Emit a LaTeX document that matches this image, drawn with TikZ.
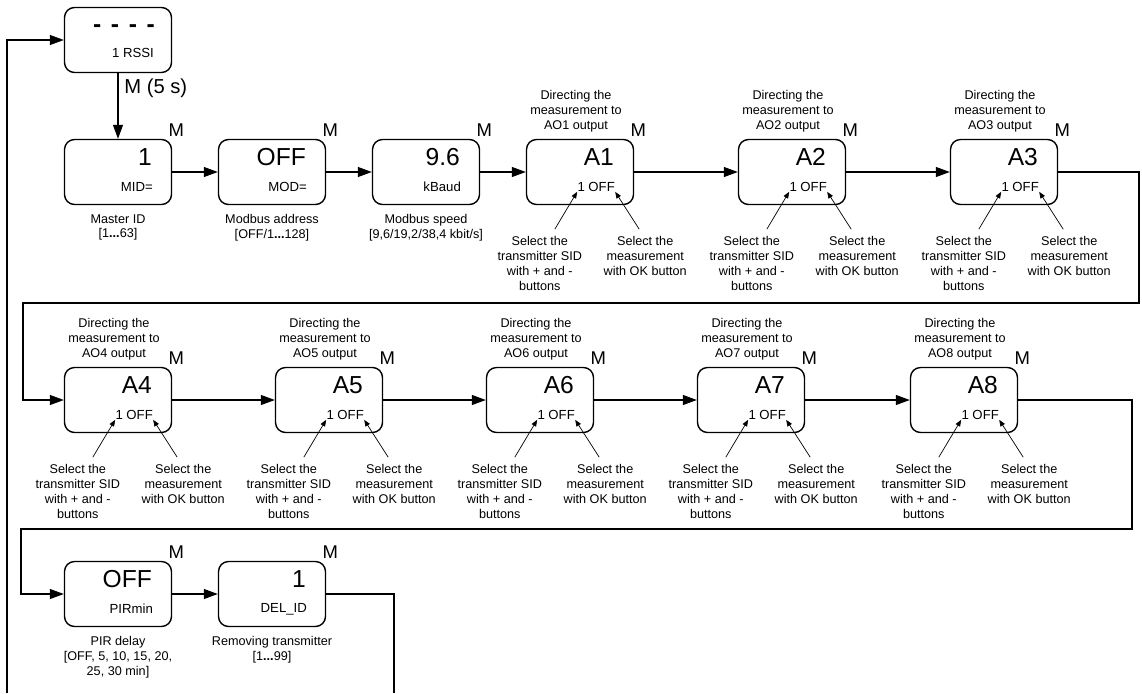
\documentclass[tikz,border=0pt]{standalone}
\usepackage{fontspec}
\setmainfont{Liberation Sans}
\usetikzlibrary{arrows.meta,positioning}

\tikzset{
  panel/.style={draw,thick,rounded corners=0.2cm,minimum width=2.14cm,minimum height=1.3cm},
  valtxt/.style={font=\fontsize{14}{16}\selectfont,inner sep=0pt},
  unittxt/.style={font=\fontsize{7.5}{9}\selectfont,inner sep=0pt},
  mtxt/.style={font=\fontsize{10.5}{12}\selectfont,inner sep=0pt},
  holdtxt/.style={font=\fontsize{11.5}{13}\selectfont,inner sep=0pt},
  note/.style={font=\fontsize{7.2}{8.5}\selectfont,align=center,inner sep=1pt},
  flow/.style={semithick,-{Triangle[length=0.28cm,width=0.2cm]}},
  pointer/.style={thin,-{Triangle[length=0.13cm,width=0.1cm]}},
}

% display box: name, centre, value, unit
\newcommand{\panelbox}[4]{%
  \node[panel] (#1) at (#2) {};
  \node[valtxt,anchor=east] (#1-val) at ([xshift=-0.4cm,yshift=-0.36cm]#1.north east) {#3};
  \node[unittxt,anchor=east] (#1-unit) at ([xshift=-0.38cm,yshift=-0.96cm]#1.north east) {#4};
  \node[mtxt,anchor=south] (#1-m) at ([xshift=0.08cm,yshift=0.04cm]#1.north east) {M};
}

\begin{document}
\begin{tikzpicture}[x=0.02cm,y=-0.02cm]
  \useasboundingbox (0,0) rectangle (1142,693);

  % start display
  \node[panel] (rssi) at (118,40) {};
  \node[valtxt,anchor=east] (rssi-val) at ([xshift=-0.34cm,yshift=-0.44cm]rssi.north east) {\textbf{-\hspace{5.5pt}-\hspace{5.5pt}-\hspace{5.5pt}-}};
  \node[unittxt,anchor=east] (rssi-unit) at ([xshift=-0.36cm,yshift=-0.92cm]rssi.north east) {1 RSSI};
  \node[holdtxt,anchor=west] (hold) at (124,88) {M (5 s)};

  % first row
  \panelbox{mid}{118,172}{1}{MID=}
  \panelbox{mod}{272,172}{OFF}{MOD=}
  \panelbox{baud}{426,172}{9.6}{kBaud}
  \node[note,below=0.14cm of mid] (midnote) {Master ID\\{[}1\textbf{...}63]};
  \node[note,below=0.14cm of mod] (modnote) {Modbus address\\{[}OFF/1\textbf{...}128]};
  \node[note,below=0.14cm of baud] (baudnote) {Modbus speed\\{[}9,6/19,2/38,4 kbit/s]};

  % analog outputs
  \foreach \n/\cx/\cy in {1/580/172,2/792/172,3/1004/172,4/118/400,5/329/400,6/540/400,7/751/400,8/964/400}{
    \panelbox{a\n}{\cx,\cy}{A\n}{1 OFF}
    \node[note,anchor=south] (dir\n) at ([xshift=-0.08cm,yshift=0.1cm]a\n.north) {Directing the\\measurement to\\AO\n\ output};
    \node[note,anchor=north] (sid\n) at ([xshift=0.28cm,yshift=-0.58cm]a\n.south west) {Select the\\transmitter SID\\with + and -\\buttons};
    \node[note,anchor=north] (ok\n) at ([xshift=0.22cm,yshift=-0.58cm]a\n.south east) {Select the\\measurement\\with OK button};
    \draw[pointer] ([xshift=0.3cm,yshift=0.1cm]sid\n.north) -- (a\n-unit.south west);
    \draw[pointer] ([xshift=-0.12cm,yshift=0.1cm]ok\n.north) -- (a\n-unit.south east);
  }

  % last row
  \panelbox{pir}{118,594}{OFF}{PIRmin}
  \panelbox{del}{272,594}{1}{DEL\_ID}
  \node[note,below=0.14cm of pir] (pirnote) {PIR delay\\{[}OFF, 5, 10, 15, 20,\\25, 30 min]};
  \node[note,below=0.14cm of del] (delnote) {Removing transmitter\\{[}1\textbf{...}99]};

  % turning points
  \coordinate (turnA) at (1139,303);
  \coordinate (turnB) at (23,303);
  \coordinate (turnC) at (1132,529);
  \coordinate (turnD) at (21,529);
  \coordinate (tail) at (394,693);
  \coordinate (loop) at (7,693);

  \draw[flow] (rssi.south) -- (mid.north);
  \draw[flow] (mid) -- (mod);
  \draw[flow] (mod) -- (baud);
  \draw[flow] (baud) -- (a1);
  \draw[flow] (a1) -- (a2);
  \draw[flow] (a2) -- (a3);
  \draw[flow] (a3.east) -| (turnA) -- (turnB) |- (a4.west);
  \draw[flow] (a4) -- (a5);
  \draw[flow] (a5) -- (a6);
  \draw[flow] (a6) -- (a7);
  \draw[flow] (a7) -- (a8);
  \draw[flow] (a8.east) -| (turnC) -- (turnD) |- (pir.west);
  \draw[flow] (pir) -- (del);
  \draw[semithick] (del.east) -| (tail);
  \draw[flow] (loop) |- (rssi.west);
\end{tikzpicture}
\end{document}
